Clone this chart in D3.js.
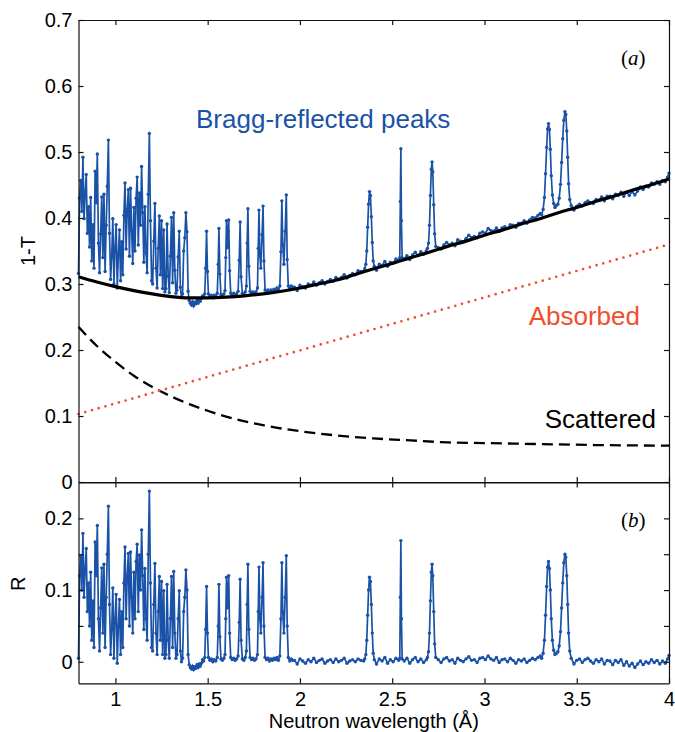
<!DOCTYPE html>
<html>
<head>
<meta charset="utf-8">
<script src="https://cdn.jsdelivr.net/npm/d3@7"></script>
<style>
  body { margin: 0; background: #fff; }
  text { font-family: "Liberation Sans", Arial, sans-serif; }
</style>
</head>
<body>
<div id="viz"></div>
<script>
// measured wavelengths (Å)
const wavelength = [
  0.800,0.806,0.812,0.818,0.824,0.830,0.836,0.842,0.848,0.854,
  0.860,0.866,0.872,0.878,0.884,0.890,0.896,0.902,0.908,0.914,
  0.920,0.926,0.932,0.938,0.944,0.950,0.956,0.962,0.968,0.974,
  0.980,0.986,0.992,0.998,1.004,1.010,1.016,1.022,1.028,1.034,
  1.040,1.046,1.052,1.058,1.064,1.070,1.076,1.082,1.088,1.094,
  1.100,1.106,1.112,1.118,1.124,1.130,1.136,1.142,1.148,1.154,
  1.160,1.166,1.172,1.178,1.184,1.190,1.196,1.202,1.208,1.214,
  1.220,1.226,1.232,1.238,1.244,1.250,1.256,1.262,1.268,1.274,
  1.280,1.286,1.292,1.298,1.304,1.310,1.316,1.322,1.328,1.334,
  1.340,1.346,1.352,1.358,1.364,1.370,1.376,1.382,1.388,1.394,
  1.400,
  1.406,1.412,1.418,1.424,1.430,1.436,1.442,1.448,1.454,1.460,
  1.466,1.472,1.478,1.484,1.489,1.494,1.499,1.504,1.512,1.520,
  1.528,1.536,1.544,1.552,1.557,1.561,1.566,1.572,1.580,1.588,
  1.594,1.598,1.602,1.607,1.611,1.614,1.619,1.625,1.633,1.641,
  1.649,1.657,1.665,1.671,1.676,1.681,1.688,1.696,1.704,1.710,
  1.714,1.718,1.723,1.730,1.738,1.746,1.754,1.762,1.770,1.774,
  1.778,1.783,1.788,1.795,1.800,1.805,1.811,1.819,1.827,1.835,
  1.843,1.851,1.859,1.867,1.875,1.883,1.891,1.897,1.902,1.907,
  1.913,1.920,1.926,1.931,1.937,1.945,1.953,1.961,
  1.970,1.985,2.000,2.015,2.030,2.045,2.060,2.075,2.090,2.105,
  2.120,2.135,2.150,2.165,2.180,2.195,2.210,2.225,2.240,2.255,
  2.270,2.285,2.300,2.315,2.330,2.345,
  2.351,2.357,2.362,2.367,2.372,2.377,2.382,2.387,2.392,2.397,2.403,
  2.415,2.430,2.445,2.460,2.475,2.490,2.505,2.520,2.535,
  2.541,2.544,2.547,2.550,2.554,
  2.565,2.580,2.595,2.610,2.625,2.640,2.655,2.670,2.685,
  2.691,2.697,2.702,2.707,2.712,2.716,2.720,2.725,2.730,2.736,
  2.750,2.765,2.780,2.795,2.810,2.825,2.840,2.855,2.870,2.885,
  2.900,2.915,2.930,2.945,2.960,2.975,2.990,3.005,3.020,3.035,
  3.050,3.065,3.080,3.095,3.110,3.125,3.140,3.155,3.170,3.185,
  3.200,3.215,3.230,3.245,3.260,3.275,3.290,3.302,
  3.310,3.318,3.325,3.331,3.337,3.342,3.347,3.352,3.357,3.362,
  3.368,3.375,3.382,3.390,3.398,3.405,3.412,3.418,3.424,3.430,
  3.436,3.441,3.446,3.451,3.456,3.462,3.470,
  3.485,3.500,3.515,3.530,3.545,3.560,3.575,3.590,3.605,3.620,
  3.635,3.650,3.665,3.680,3.695,3.710,3.725,3.740,3.755,3.770,
  3.785,3.800,3.815,3.830,3.845,3.860,3.875,3.890,3.905,3.920,
  3.935,3.950,3.965,3.980,3.992,4.000,
];

// panel (a): 1-T
const oneMinusT = [
  .316,.430,.457,.410,.492,.399,.438,.466,.377,.417,
  .356,.431,.335,.390,.324,.471,.423,.497,.362,.317,
  .376,.432,.340,.436,.319,.389,.448,.518,.377,.307,
  .341,.399,.300,.355,.390,.294,.345,.382,.305,.364,
  .314,.404,.453,.353,.413,.443,.342,.445,.381,.331,
  .416,.350,.430,.462,.359,.438,.389,.478,.408,.333,
  .417,.347,.317,.436,.528,.396,.305,.300,.365,.422,
  .324,.294,.354,.403,.314,.396,.293,.382,.288,.293,
  .391,.312,.287,.342,.401,.302,.408,.321,.286,.291,
  .341,.380,.295,.280,.285,.350,.370,.408,.379,.289,
  .275,
  .271,.268,.273,.267,.272,.270,.275,.271,.276,.274,
  .278,.282,.280,.285,.324,.380,.319,.285,.281,.283,
  .279,.283,.281,.286,.330,.384,.315,.284,.282,.285,
  .290,.340,.396,.355,.380,.397,.320,.286,.283,.286,
  .283,.285,.289,.336,.394,.311,.286,.284,.288,.297,
  .362,.414,.327,.289,.286,.288,.286,.288,.294,.354,
  .412,.343,.324,.375,.418,.335,.291,.289,.291,.287,
  .291,.289,.292,.290,.294,.290,.297,.349,.426,.359,
  .330,.380,.435,.337,.297,.292,.297,.295,
  .295,.290,.298,.296,.294,.300,.298,.303,.298,.302,
  .305,.300,.304,.307,.304,.310,.307,.310,.314,.309,
  .313,.316,.314,.320,.319,.319,
  .323,.330,.350,.386,.421,.440,.434,.402,.363,.335,.327,
  .321,.330,.328,.334,.327,.333,.332,.338,.336,
  .340,.425,.505,.396,.340,
  .338,.343,.337,.344,.348,.343,.349,.345,.350,
  .354,.362,.389,.434,.474,.485,.470,.420,.376,.357,
  .355,.353,.359,.363,.359,.362,.358,.367,.365,.364,
  .369,.374,.370,.372,.370,.377,.379,.377,.384,.381,
  .380,.385,.380,.385,.387,.384,.390,.389,.386,.392,
  .392,.396,.392,.397,.401,.400,.404,.407,
  .405,.413,.431,.467,.507,.535,.543,.534,.504,.464,
  .435,.422,.416,.419,.421,.430,.451,.484,.520,.548,
  .561,.557,.532,.492,.452,.428,.419,
  .412,.418,.421,.418,.423,.426,.423,.422,.428,.427,
  .432,.426,.433,.433,.429,.436,.434,.439,.433,.439,
  .434,.440,.435,.441,.447,.443,.448,.447,.453,.451,
  .455,.451,.457,.455,.462,.468,
];

// panel (b): R
const reflectivity = [
  .005,.120,.147,.100,.179,.090,.130,.158,.070,.110,
  .050,.125,.030,.085,.020,.167,.120,.190,.060,.015,
  .075,.131,.040,.136,.020,.090,.150,.217,.080,.010,
  .045,.103,.005,.060,.094,-.002,.050,.087,.010,.070,
  .020,.110,.160,.060,.120,.151,.050,.153,.090,.040,
  .125,.060,.140,.164,.070,.149,.100,.184,.120,.045,
  .130,.060,.030,.150,.238,.110,.020,.015,.080,.137,
  .040,.010,.070,.119,.030,.112,.010,.099,.005,.010,
  .108,.030,.005,.060,.119,.020,.126,.040,.005,.010,
  .060,.099,.015,.000,.005,.070,.090,.128,.100,.010,
  -.004,
  -.008,-.010,-.006,-.011,-.007,-.009,-.004,-.008,-.003,-.006,
  -.002,.003,.001,.006,.045,.105,.040,.006,.002,.004,
  .000,.003,.001,.006,.050,.108,.035,.004,.002,.005,
  .010,.060,.118,.075,.100,.120,.040,.006,.003,.005,
  .002,.004,.008,.055,.115,.030,.004,.002,.006,.015,
  .080,.136,.045,.006,.003,.005,.002,.004,.010,.070,
  .132,.060,.040,.090,.138,.050,.006,.003,.005,.001,
  .004,.002,.005,.003,.006,.002,.008,.060,.138,.070,
  .040,.090,.148,.050,.006,.001,.004,.002,
  .002,-.003,.004,.001,-.002,.003,.000,.005,-.001,.002,
  .004,-.002,.001,.003,-.001,.004,.000,.002,.005,-.002,
  .001,.003,.000,.004,.002,.001,
  .004,.010,.030,.065,.100,.118,.112,.080,.040,.012,.003,
  -.003,.004,.001,.006,-.002,.003,.000,.005,.002,
  .005,.090,.169,.060,.004,
  .001,.005,-.002,.003,.006,.000,.004,-.001,.003,
  .006,.014,.040,.085,.125,.136,.120,.070,.025,.006,
  .003,-.001,.004,.006,.001,.003,-.002,.005,.002,.000,
  .004,.007,.002,.003,-.001,.005,.006,.003,.008,.004,
  .002,.006,-.001,.003,.004,.000,.005,.002,-.002,.003,
  .001,.004,-.001,.002,.005,.003,.006,.008,
  .005,.012,.030,.065,.105,.132,.140,.130,.100,.060,
  .030,.016,.010,.012,.014,.022,.042,.075,.110,.138,
  .150,.146,.120,.080,.040,.015,.005,
  -.003,.002,.004,-.001,.003,.005,.001,-.002,.003,.000,
  .004,-.003,.002,.001,-.004,.002,-.001,.003,-.005,.000,
  -.006,-.002,-.008,-.003,.001,-.004,.000,-.002,.003,-.001,
  .002,-.003,.001,-.002,.004,.009,
];

// model curves
const fitLambda = [0.8,0.9,1.0,1.1,1.2,1.3,1.4,1.5,1.6,1.7,1.8,1.9,2.0,2.1,2.2,2.3,2.4,
  2.5,2.6,2.7,2.8,2.9,3.0,3.1,3.2,3.3,3.4,3.5,3.6,3.7,3.8,3.9,4.0];
const fitTotal = [0.311,0.303,0.296,0.290,0.285,0.281,0.279,0.279,0.280,0.282,0.285,0.289,
  0.294,0.300,0.306,0.3145,0.323,0.331,0.340,0.348,0.357,0.365,0.374,0.382,0.391,0.399,
  0.408,0.416,0.425,0.433,0.442,0.450,0.459];

const scatLambda = [0.8,0.9,1.0,1.1,1.2,1.3,1.4,1.5,1.6,1.8,2.0,2.2,2.4,2.6,2.8,3.0,3.2,3.4,3.6,3.8,4.0];
const scattered = [0.235,0.206,0.182,0.161,0.144,0.130,0.118,0.108,0.099,0.086,0.077,
  0.0705,0.066,0.063,0.060,0.059,0.058,0.057,0.056,0.0555,0.055];

const absLambda = [0.8, 4.0];
const absorbed = [0.103, 0.360];

const xTicks = [1, 1.5, 2, 2.5, 3, 3.5, 4];
const yTopTicks = [0, 0.1, 0.2, 0.3, 0.4, 0.5, 0.6, 0.7];
const yBotTicks = [0, 0.05, 0.1, 0.15, 0.2];
const yBotLabels = [0, 0.1, 0.2];

const config = {
  width: 675,
  height: 732,
  left: 78.5,
  right: 669,
  topY0: 20,
  topY1: 482,
  botY0: 482.5,
  botY1: 683.3,
  blue: "#1a52a8",
  red: "#f04e2d",
  tickFont: 20,
  noteFont: 26,
};

const svg = d3
  .select("#viz")
  .append("svg")
  .attr("width", config.width)
  .attr("height", config.height);

const x = d3.scaleLinear().domain([0.8, 4]).range([config.left, config.right]);
const yTop = d3.scaleLinear().domain([0, 0.7]).range([config.topY1, config.topY0]);
const yBot = d3.scaleLinear().domain([-0.03, 0.25]).range([config.botY1, config.botY0]);

const rows = wavelength.map((w, i) => ({ w, t: oneMinusT[i], r: reflectivity[i] }));
if (oneMinusT.length !== wavelength.length || reflectivity.length !== wavelength.length) {
  svg.append("text").attr("x", 200).attr("y", 300).attr("fill", "red")
    .text(`length mismatch ${wavelength.length} ${oneMinusT.length} ${reflectivity.length}`);
}

const drawSeries = (yScale, key) => {
  const line = d3.line().x((d) => x(d.w)).y((d) => yScale(d[key]));
  svg.append("path")
    .datum(rows)
    .attr("d", line)
    .attr("fill", "none")
    .attr("stroke", config.blue)
    .attr("stroke-width", 1.7);
  svg.append("g")
    .selectAll("circle")
    .data(rows)
    .join("circle")
    .attr("cx", (d) => x(d.w))
    .attr("cy", (d) => yScale(d[key]))
    .attr("r", 1.7)
    .attr("fill", config.blue);
};

const drawCurve = (xs, ys, opts) => {
  const line = d3.line().x((d) => x(d[0])).y((d) => yTop(d[1])).curve(d3.curveMonotoneX);
  svg.append("path")
    .datum(xs.map((v, i) => [v, ys[i]]))
    .attr("d", line)
    .attr("fill", "none")
    .attr("stroke", opts.color)
    .attr("stroke-width", opts.width)
    .attr("stroke-dasharray", opts.dash || null)
    .attr("stroke-linecap", opts.cap || "butt");
};

// panel (a)
drawSeries(yTop, "t");
drawCurve(fitLambda, fitTotal, { color: "#000", width: 3.2 });
drawCurve(scatLambda, scattered, { color: "#000", width: 2.3, dash: "11,6" });
drawCurve(absLambda, absorbed, { color: config.red, width: 2.7, dash: "0,7", cap: "round" });

// panel (b)
drawSeries(yBot, "r");

const styleAxis = (g) => {
  g.selectAll("path, line").attr("stroke", "#111").attr("stroke-width", 1.2);
  g.selectAll("text")
    .attr("fill", "#000")
    .attr("font-size", config.tickFont)
    .attr("font-family", '"Liberation Sans", Arial, sans-serif');
};

const fmtTop = (d) => (d === 0 ? "0" : d3.format(".1f")(d));
const fmtBot = (d) => (yBotLabels.includes(d) ? (d === 0 ? "0" : d3.format(".1f")(d)) : "");

const addAxis = (axis, tx, ty) =>
  svg.append("g").attr("transform", `translate(${tx},${ty})`).call(axis).call(styleAxis);

// top panel frame
addAxis(d3.axisLeft(yTop).tickValues(yTopTicks).tickSize(-5).tickSizeOuter(0).tickPadding(6).tickFormat(fmtTop), config.left, 0);
addAxis(d3.axisRight(yTop).tickValues(yTopTicks).tickSize(-5).tickSizeOuter(0).tickFormat(""), config.right, 0);
addAxis(d3.axisTop(x).tickValues(xTicks).tickSize(-5).tickSizeOuter(0).tickFormat(""), 0, config.topY0);
addAxis(d3.axisBottom(x).tickValues(xTicks).tickSize(-5).tickSizeOuter(0).tickFormat(""), 0, config.topY1);

// bottom panel frame
addAxis(d3.axisLeft(yBot).tickValues(yBotTicks).tickSize(-5).tickSizeOuter(0).tickPadding(6).tickFormat(fmtBot), config.left, 0);
addAxis(d3.axisRight(yBot).tickValues(yBotTicks).tickSize(-5).tickSizeOuter(0).tickFormat(""), config.right, 0);
addAxis(d3.axisTop(x).tickValues(xTicks).tickSize(-5).tickSizeOuter(0).tickFormat(""), 0, config.botY0);
addAxis(d3.axisBottom(x).tickValues(xTicks).tickSize(-5).tickSizeOuter(0).tickPadding(9).tickFormat(d3.format("~g")), 0, config.botY1);

// axis titles
svg.append("text")
  .attr("transform", `translate(35,${(config.topY0 + config.topY1) / 2}) rotate(-90)`)
  .attr("text-anchor", "middle")
  .attr("font-size", config.tickFont)
  .text("1-T");

svg.append("text")
  .attr("transform", `translate(25,${(config.botY0 + config.botY1) / 2 + 1}) rotate(-90)`)
  .attr("text-anchor", "middle")
  .attr("font-size", config.tickFont)
  .text("R");

svg.append("text")
  .attr("x", (config.left + config.right) / 2)
  .attr("y", 728)
  .attr("text-anchor", "middle")
  .attr("font-size", config.tickFont)
  .text("Neutron wavelength (Å)");

// annotations
svg.append("text")
  .attr("x", 196).attr("y", 128)
  .attr("font-size", config.noteFont)
  .attr("fill", config.blue)
  .text("Bragg-reflected peaks");

svg.append("text")
  .attr("x", 640).attr("y", 325)
  .attr("text-anchor", "end")
  .attr("font-size", config.noteFont)
  .attr("fill", config.red)
  .text("Absorbed");

svg.append("text")
  .attr("x", 656).attr("y", 428)
  .attr("text-anchor", "end")
  .attr("font-size", config.noteFont)
  .attr("fill", "#000")
  .text("Scattered");

const panelTag = (label, y) => {
  const t = svg.append("text")
    .attr("x", 621).attr("y", y)
    .attr("font-size", 21)
    .style("font-family", '"Liberation Serif", "Times New Roman", serif');
  t.append("tspan").text("(");
  t.append("tspan").attr("font-style", "italic").text(label);
  t.append("tspan").text(")");
};
panelTag("a", 65);
panelTag("b", 527);
</script>
</body>
</html>
